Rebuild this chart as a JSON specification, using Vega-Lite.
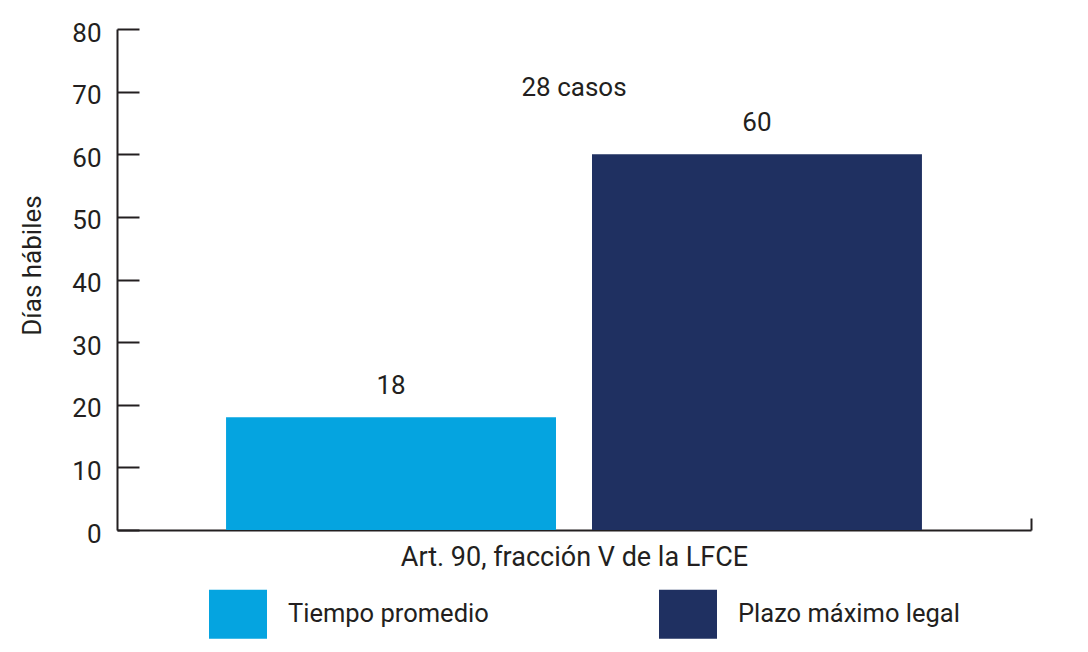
{
  "$schema": "https://vega.github.io/schema/vega-lite/v6.json",
  "width": 914,
  "height": 501,
  "autosize": "none",
  "padding": {"left": 117, "top": 29, "right": 57, "bottom": 122},
  "background": "white",
  "config": {"font": "Roboto", "view": {"stroke": null}},
  "datasets": {
    "barras": [
      {"grupo": "Art. 90, fracción V de la LFCE", "serie": "Tiempo promedio", "dias": 18},
      {"grupo": "Art. 90, fracción V de la LFCE", "serie": "Plazo máximo legal", "dias": 60}
    ],
    "nota": [
      {"grupo": "Art. 90, fracción V de la LFCE", "texto": "28 casos", "nivel": 70.6}
    ]
  },
  "layer": [
    {
      "data": {"name": "barras"},
      "mark": {"type": "bar"},
      "encoding": {
        "x": {
          "field": "grupo", "type": "nominal",
          "scale": {"paddingInner": 0, "paddingOuter": 0},
          "axis": {
            "labels": false, "ticks": true, "bandPosition": 1, "tickSize": -12,
            "tickColor": "#231F20", "tickWidth": 2,
            "domainColor": "#231F20", "domainWidth": 2,
            "title": "Art. 90, fracción V de la LFCE",
            "titleFontSize": 27, "titleFontWeight": "normal", "titleColor": "#231F20",
            "titlePadding": 13
          }
        },
        "xOffset": {
          "field": "serie", "type": "nominal",
          "sort": ["Tiempo promedio", "Plazo máximo legal"],
          "scale": {"paddingInner": 0.0984, "paddingOuter": 0.298}
        },
        "y": {
          "field": "dias", "type": "quantitative",
          "scale": {"domain": [0, 80], "nice": false},
          "axis": {
            "title": "Días hábiles",
            "values": [0, 10, 20, 30, 40, 50, 60, 70, 80],
            "grid": false,
            "domainColor": "#231F20", "domainWidth": 2,
            "tickColor": "#231F20", "tickWidth": 2, "tickSize": -22,
            "labelPadding": 38, "labelFontSize": 26, "labelColor": "#231F20",
            "labelOffset": 4,
            "titleFontSize": 26, "titleFontWeight": "normal", "titleColor": "#231F20",
            "titleX": -85, "titleY": 236, "titleBaseline": "middle", "titleAlign": "center"
          }
        },
        "color": {
          "field": "serie", "type": "nominal",
          "scale": {"domain": ["Tiempo promedio", "Plazo máximo legal"], "range": ["#05A4E0", "#1F3061"]},
          "legend": {
            "orient": "none", "legendX": 92, "legendY": 556,
            "direction": "horizontal", "title": null,
            "symbolType": "M-1,-0.845L1,-0.845L1,0.845L-1,0.845Z",
            "symbolSize": 3364, "symbolStrokeWidth": 0, "symbolOpacity": 1,
            "labelFontSize": 25.5, "labelOffset": 21, "labelColor": "#231F20",
            "columnPadding": 170, "labelLimit": 400
          }
        }
      }
    },
    {
      "data": {"name": "barras"},
      "mark": {"type": "text", "dy": -31, "fontSize": 26, "color": "#231F20", "baseline": "middle"},
      "encoding": {
        "x": {"field": "grupo", "type": "nominal"},
        "xOffset": {"field": "serie", "type": "nominal", "sort": ["Tiempo promedio", "Plazo máximo legal"]},
        "y": {"field": "dias", "type": "quantitative"},
        "text": {"field": "dias", "type": "quantitative"}
      }
    },
    {
      "data": {"name": "nota"},
      "mark": {"type": "text", "fontSize": 26, "color": "#231F20", "baseline": "middle"},
      "encoding": {
        "x": {"field": "grupo", "type": "nominal"},
        "y": {"field": "nivel", "type": "quantitative"},
        "text": {"field": "texto", "type": "nominal"}
      }
    }
  ]
}
